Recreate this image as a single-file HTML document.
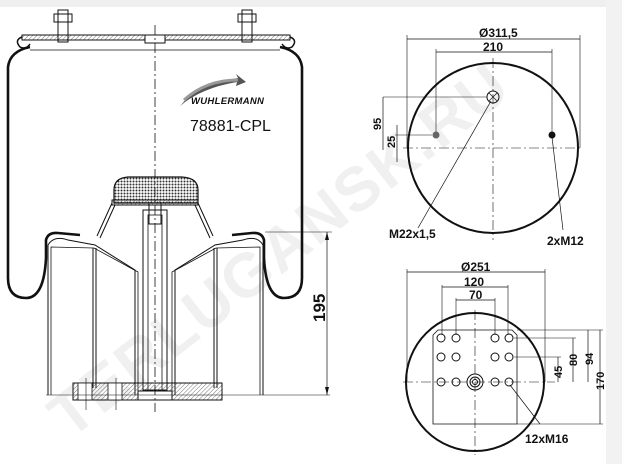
<!DOCTYPE html>
<html><head><meta charset="utf-8"><style>
html,body{margin:0;padding:0;background:#fff;}
svg{display:block;}
text{font-family:"Liberation Sans",Arial,sans-serif;font-weight:bold;fill:#111;}
</style></head><body>
<svg width="622" height="464" viewBox="0 0 622 464" xmlns="http://www.w3.org/2000/svg">
<defs>
<pattern id="h" width="3" height="3" patternUnits="userSpaceOnUse" patternTransform="rotate(45)"><line x1="0" y1="0" x2="0" y2="3" stroke="#555" stroke-width="0.8"/></pattern>
<pattern id="x" width="3" height="3" patternUnits="userSpaceOnUse"><rect width="3" height="3" fill="#fff"/><circle cx="1.5" cy="1.5" r="1" fill="#333"/></pattern>
</defs>
<rect x="0" y="0" width="622" height="7" fill="#efefef"/>
<rect x="606" y="0" width="16" height="464" fill="#f2f2f2"/>
<text x="0" y="0" transform="translate(70,440) rotate(-38)" font-size="62" style="fill:#f0f0f0" letter-spacing="2">TERLUGANSK.RU</text>

<g fill="none" stroke="#111">
<rect x="22" y="35" width="268" height="5" fill="url(#h)" stroke-width="1"/>
<path d="M22 37 q-8 3 -2 10 q6 3 10 -3" stroke-width="1.5"/>
<path d="M290 37 q8 3 2 10 q-6 3 -10 -3" stroke-width="1.5"/>
<rect x="145" y="35" width="20" height="8" fill="#fff"/>
<line x1="30" y1="50" x2="280" y2="50" stroke-width="0.8"/>
<rect x="58" y="10" width="10" height="32" stroke-width="1"/>
<rect x="54" y="14" width="18" height="8" stroke-width="1"/>
<rect x="242" y="10" width="10" height="32" stroke-width="1"/>
<rect x="238" y="14" width="18" height="8" stroke-width="1"/>
<path d="M30 47 q-20 4 -22 20 L8 278 q0 20 18 20 q18 0 20 -40 L46 240 q2 -8 12 -7 L80 235" stroke-width="2.6"/>
<path d="M280 47 q20 4 22 20 L302 278 q0 20 -18 20 q-18 0 -20 -40 L264 240 q-2 -8 -12 -7 L232 235" stroke-width="2.6"/>
<path d="M48 395 L48 245 q6 -10 20 -5 L95 245 L135 270 L135 395" stroke-width="1"/>
<path d="M51 395 L51 247 L94 248 L138 272 L138 395" stroke-width="0.8"/>
<path d="M263 395 L263 245 q-6 -10 -20 -5 L215 245 L175 270 L175 395" stroke-width="1"/>
<path d="M260 395 L260 247 L216 248 L172 272 L172 395" stroke-width="0.8"/>
<line x1="93" y1="248" x2="93" y2="388" stroke-width="1"/>
<line x1="96" y1="248" x2="96" y2="388" stroke-width="1"/>
<line x1="214" y1="248" x2="214" y2="388" stroke-width="1"/>
<line x1="217" y1="248" x2="217" y2="388" stroke-width="1"/>
<path d="M100 238 L115 205 M97 236 L112 203 M210 238 L195 205 M213 236 L198 203" stroke-width="1"/>
<rect x="143" y="210" width="24" height="180" stroke-width="1"/>
<rect x="148" y="215" width="14" height="175" stroke-width="0.8"/>
<rect x="149" y="202" width="12" height="22" stroke-width="1"/>
<path d="M114 203 L114 190 q0 -12 14 -13 L182 177 q16 1 16 13 L198 203 Z" fill="url(#x)" stroke-width="1.2"/>
<rect x="112" y="200" width="86" height="5" fill="url(#h)" stroke-width="1"/>
<rect x="73" y="383" width="149" height="17" fill="url(#h)" stroke-width="1"/>
<rect x="138" y="391" width="34" height="9" fill="#fff" stroke-width="1"/>
<rect x="78" y="383" width="14" height="17" fill="#fff" stroke-width="0.8"/>
<rect x="108" y="383" width="14" height="17" fill="#fff" stroke-width="0.8"/>
<line x1="86" y1="378" x2="86" y2="410" stroke-width="0.6"/>
<line x1="116" y1="378" x2="116" y2="410" stroke-width="0.6"/>
<line x1="46" y1="395" x2="330" y2="395" stroke-width="0.6"/>
<line x1="155" y1="25" x2="155" y2="412" stroke-width="0.8" stroke-dasharray="10,3,2,3"/>
<line x1="265" y1="232" x2="332" y2="232" stroke-width="0.6"/>
<line x1="327" y1="232" x2="327" y2="395" stroke-width="0.7"/>
<path d="M327 232 l-2 8 h4z M327 395 l-2 -8 h4z" fill="#111" stroke="none"/>
</g>
<text transform="translate(325,322) rotate(-90)" font-size="17">195</text>
<path d="M180 106 q18 -22 58 -28 l-2 -4 l10 8 l-10 4 l1 -4 q-36 6 -57 24z" fill="#555"/>
<path d="M184 100 q22 -20 54 -20" fill="none" stroke="#999" stroke-width="3"/>
<text x="191" y="104" font-size="9.5" font-style="italic" letter-spacing="0.3">WUHLERMANN</text>
<text x="190" y="131" font-size="16" style="font-weight:normal">78881-CPL</text>

<g fill="none" stroke="#111">
<circle cx="493" cy="148" r="85" stroke-width="2"/>
<line x1="403" y1="148" x2="583" y2="148" stroke-width="0.6" stroke-dasharray="10,3,2,3"/>
<line x1="493" y1="58" x2="493" y2="240" stroke-width="0.6" stroke-dasharray="10,3,2,3"/>
<line x1="407" y1="35" x2="407" y2="148" stroke-width="0.6"/>
<line x1="580" y1="35" x2="580" y2="148" stroke-width="0.6"/>
<line x1="407" y1="39" x2="580" y2="39" stroke-width="0.7"/>
<line x1="436" y1="49" x2="436" y2="135" stroke-width="0.6"/>
<line x1="552" y1="49" x2="552" y2="135" stroke-width="0.6"/>
<line x1="436" y1="52" x2="552" y2="52" stroke-width="0.7"/>
<circle cx="493" cy="97" r="6" stroke-width="1"/>
<path d="M489 93 l8 8 M497 93 l-8 8" stroke-width="0.7"/>
<line x1="383" y1="97" x2="487" y2="97" stroke-width="0.6"/>
<line x1="383" y1="97" x2="383" y2="150" stroke-width="0.7"/>
<line x1="395" y1="135" x2="432" y2="135" stroke-width="0.6"/>
<line x1="397" y1="125" x2="397" y2="162" stroke-width="0.7"/>
<line x1="491" y1="101" x2="418" y2="228" stroke-width="0.7"/>
<line x1="552" y1="137" x2="563" y2="230" stroke-width="0.7"/>
</g>
<circle cx="436" cy="135" r="3.5" fill="#666"/>
<circle cx="552" cy="135" r="3.5" fill="#111"/>
<text x="479" y="37" font-size="12">Ø311,5</text>
<text x="483" y="51" font-size="12">210</text>
<text transform="translate(381,130) rotate(-90)" font-size="11">95</text>
<text transform="translate(395,148) rotate(-90)" font-size="11">25</text>
<text x="389" y="238" font-size="12">M22x1,5</text>
<text x="547" y="245" font-size="12">2xM12</text>

<g fill="none" stroke="#111">
<circle cx="475" cy="382" r="69" stroke-width="2"/>
<line x1="403" y1="382" x2="555" y2="382" stroke-width="0.6" stroke-dasharray="10,3,2,3"/>
<line x1="475" y1="310" x2="475" y2="455" stroke-width="0.6" stroke-dasharray="10,3,2,3"/>
<path d="M433 424 L433 335 L438 330 L512 330 L517 335 L517 424 Z" stroke-width="0.8"/>
<line x1="407" y1="269" x2="407" y2="382" stroke-width="0.6"/>
<line x1="545" y1="269" x2="545" y2="382" stroke-width="0.6"/>
<line x1="407" y1="272" x2="545" y2="272" stroke-width="0.7"/>
<line x1="442" y1="285" x2="442" y2="335" stroke-width="0.6"/>
<line x1="508" y1="285" x2="508" y2="335" stroke-width="0.6"/>
<line x1="442" y1="287" x2="508" y2="287" stroke-width="0.7"/>
<line x1="456" y1="298" x2="456" y2="335" stroke-width="0.6"/>
<line x1="495" y1="298" x2="495" y2="335" stroke-width="0.6"/>
<line x1="456" y1="300" x2="495" y2="300" stroke-width="0.7"/>
<line x1="517" y1="330" x2="603" y2="330" stroke-width="0.6"/>
<line x1="517" y1="424" x2="603" y2="424" stroke-width="0.6"/>
<line x1="600" y1="330" x2="600" y2="424" stroke-width="0.7"/>
<line x1="588" y1="330" x2="588" y2="382" stroke-width="0.7"/>
<line x1="514" y1="338" x2="576" y2="338" stroke-width="0.6"/>
<line x1="573" y1="338" x2="573" y2="382" stroke-width="0.7"/>
<line x1="514" y1="357" x2="561" y2="357" stroke-width="0.6"/>
<line x1="558" y1="357" x2="558" y2="382" stroke-width="0.7"/>
<line x1="510" y1="385" x2="540" y2="424" stroke-width="0.7"/>
<g stroke-width="1">
<circle cx="441" cy="338" r="4"/><circle cx="456" cy="338" r="4"/><circle cx="495" cy="338" r="4"/><circle cx="509" cy="338" r="4"/>
<circle cx="441" cy="357" r="4"/><circle cx="456" cy="357" r="4"/><circle cx="495" cy="357" r="4"/><circle cx="509" cy="357" r="4"/>
<circle cx="441" cy="382" r="4"/><circle cx="456" cy="382" r="4"/><circle cx="495" cy="382" r="4"/><circle cx="509" cy="382" r="4"/>
<circle cx="475" cy="382" r="8"/><circle cx="475" cy="382" r="5"/><circle cx="475" cy="382" r="2.5"/>
</g>
</g>
<text x="461" y="271" font-size="12">Ø251</text>
<text x="464" y="286" font-size="12">120</text>
<text x="469" y="299" font-size="12">70</text>
<text transform="translate(562,378) rotate(-90)" font-size="11">45</text>
<text transform="translate(577,366) rotate(-90)" font-size="11">80</text>
<text transform="translate(593,365) rotate(-90)" font-size="11">94</text>
<text transform="translate(604,390) rotate(-90)" font-size="11">170</text>
<text x="525" y="443" font-size="12">12xM16</text>
</svg>
</body></html>
